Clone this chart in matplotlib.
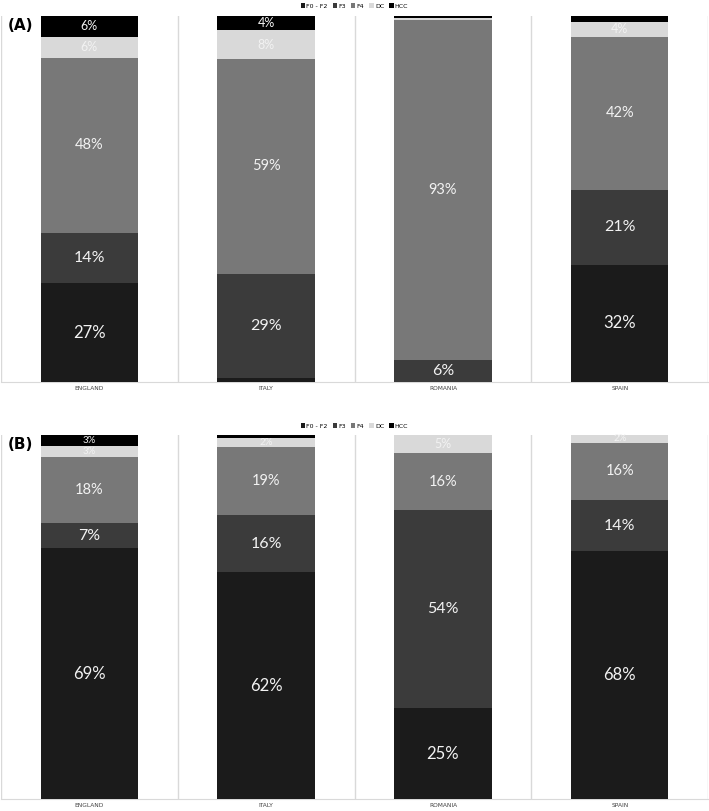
import matplotlib.pyplot as plt
import numpy as np

plt.rcParams['font.family'] = ['Lato', 'DejaVu Sans']

countries = ["ENGLAND", "ITALY", "ROMANIA", "SPAIN"]
stages = ["F0 - F2", "F3", "F4", "DC", "HCC"]
colors = ["#1b1b1b", "#3b3b3b", "#787878", "#d9d9d9", "#000000"]
label_sizes = [12, 11.5, 10.5, 9, 9]

# panel A: share per stage (%), bottom to top
a_f02 = [27.0, 1.0, 0.0, 32.0]
a_f3 = [13.7, 28.6, 6.0, 20.6]
a_f4 = [48.0, 58.8, 92.9, 41.8]
a_dc = [5.7, 7.7, 0.6, 4.0]
a_hcc = [5.6, 3.9, 0.6, 1.6]

# panel B
b_f02 = [68.8, 62.3, 24.9, 68.1]
b_f3 = [7.0, 15.6, 54.4, 13.9]
b_f4 = [18.2, 18.9, 15.6, 15.9]
b_dc = [3.0, 2.2, 5.0, 2.0]
b_hcc = [3.0, 1.0, 0.1, 0.3]

panels = [("(A)", [a_f02, a_f3, a_f4, a_dc, a_hcc]),
          ("(B)", [b_f02, b_f3, b_f4, b_dc, b_hcc])]

fig = plt.figure(figsize=(7.09, 8.11), dpi=100)
positions = [[0.001, 0.529, 0.998, 0.451], [0.001, 0.0148, 0.998, 0.449]]
legend_y = [1.0, 0.482]

x = np.arange(len(countries))
for (tag, series), pos, ly in zip(panels, positions, legend_y):
    ax = fig.add_axes(pos)
    bottom = np.zeros(len(countries))
    handles = []
    for vals, col, name, fs in zip(series, colors, stages, label_sizes):
        vals = np.array(vals)
        bars = ax.bar(x, vals, 0.55, bottom=bottom, color=col, label=name, zorder=3)
        handles.append(bars)
        for xi, v, b in zip(x, vals, bottom):
            if v >= 1.95:
                ax.text(xi, b + v / 2, f"{round(v)}%", ha="center", va="center",
                        color="#f2f2f2", fontsize=fs if v >= 3.5 else 7, zorder=4)
        bottom += vals
    ax.set_xlim(-0.5, 3.5)
    ax.set_ylim(0, 100)
    for b in np.arange(-0.5, 4.0, 1.0):
        ax.axvline(b, color="#d9d9d9", lw=1, zorder=1)
    for s in ["top", "left", "right"]:
        ax.spines[s].set_visible(False)
    ax.spines["bottom"].set_color("#d9d9d9")
    ax.set_yticks([])
    ax.set_xticks(x)
    ax.set_xticklabels(countries, fontsize=4.2, color="#404040", family="DejaVu Sans")
    ax.tick_params(axis="x", length=0, pad=3)
    fig.text(0.011, pos[1] + pos[3] - 0.012, tag, fontsize=11, fontweight="bold",
             family="DejaVu Sans", va="center")
    fig.legend(handles=handles, labels=stages, loc="upper center", bbox_to_anchor=(0.5, ly),
               ncol=5, frameon=False, handlelength=0.7, handleheight=0.7,
               handletextpad=0.2, columnspacing=0.8, borderaxespad=0.1,
               prop={"family": "DejaVu Sans", "size": 4.5})

fig.savefig("out.png", dpi=100)
